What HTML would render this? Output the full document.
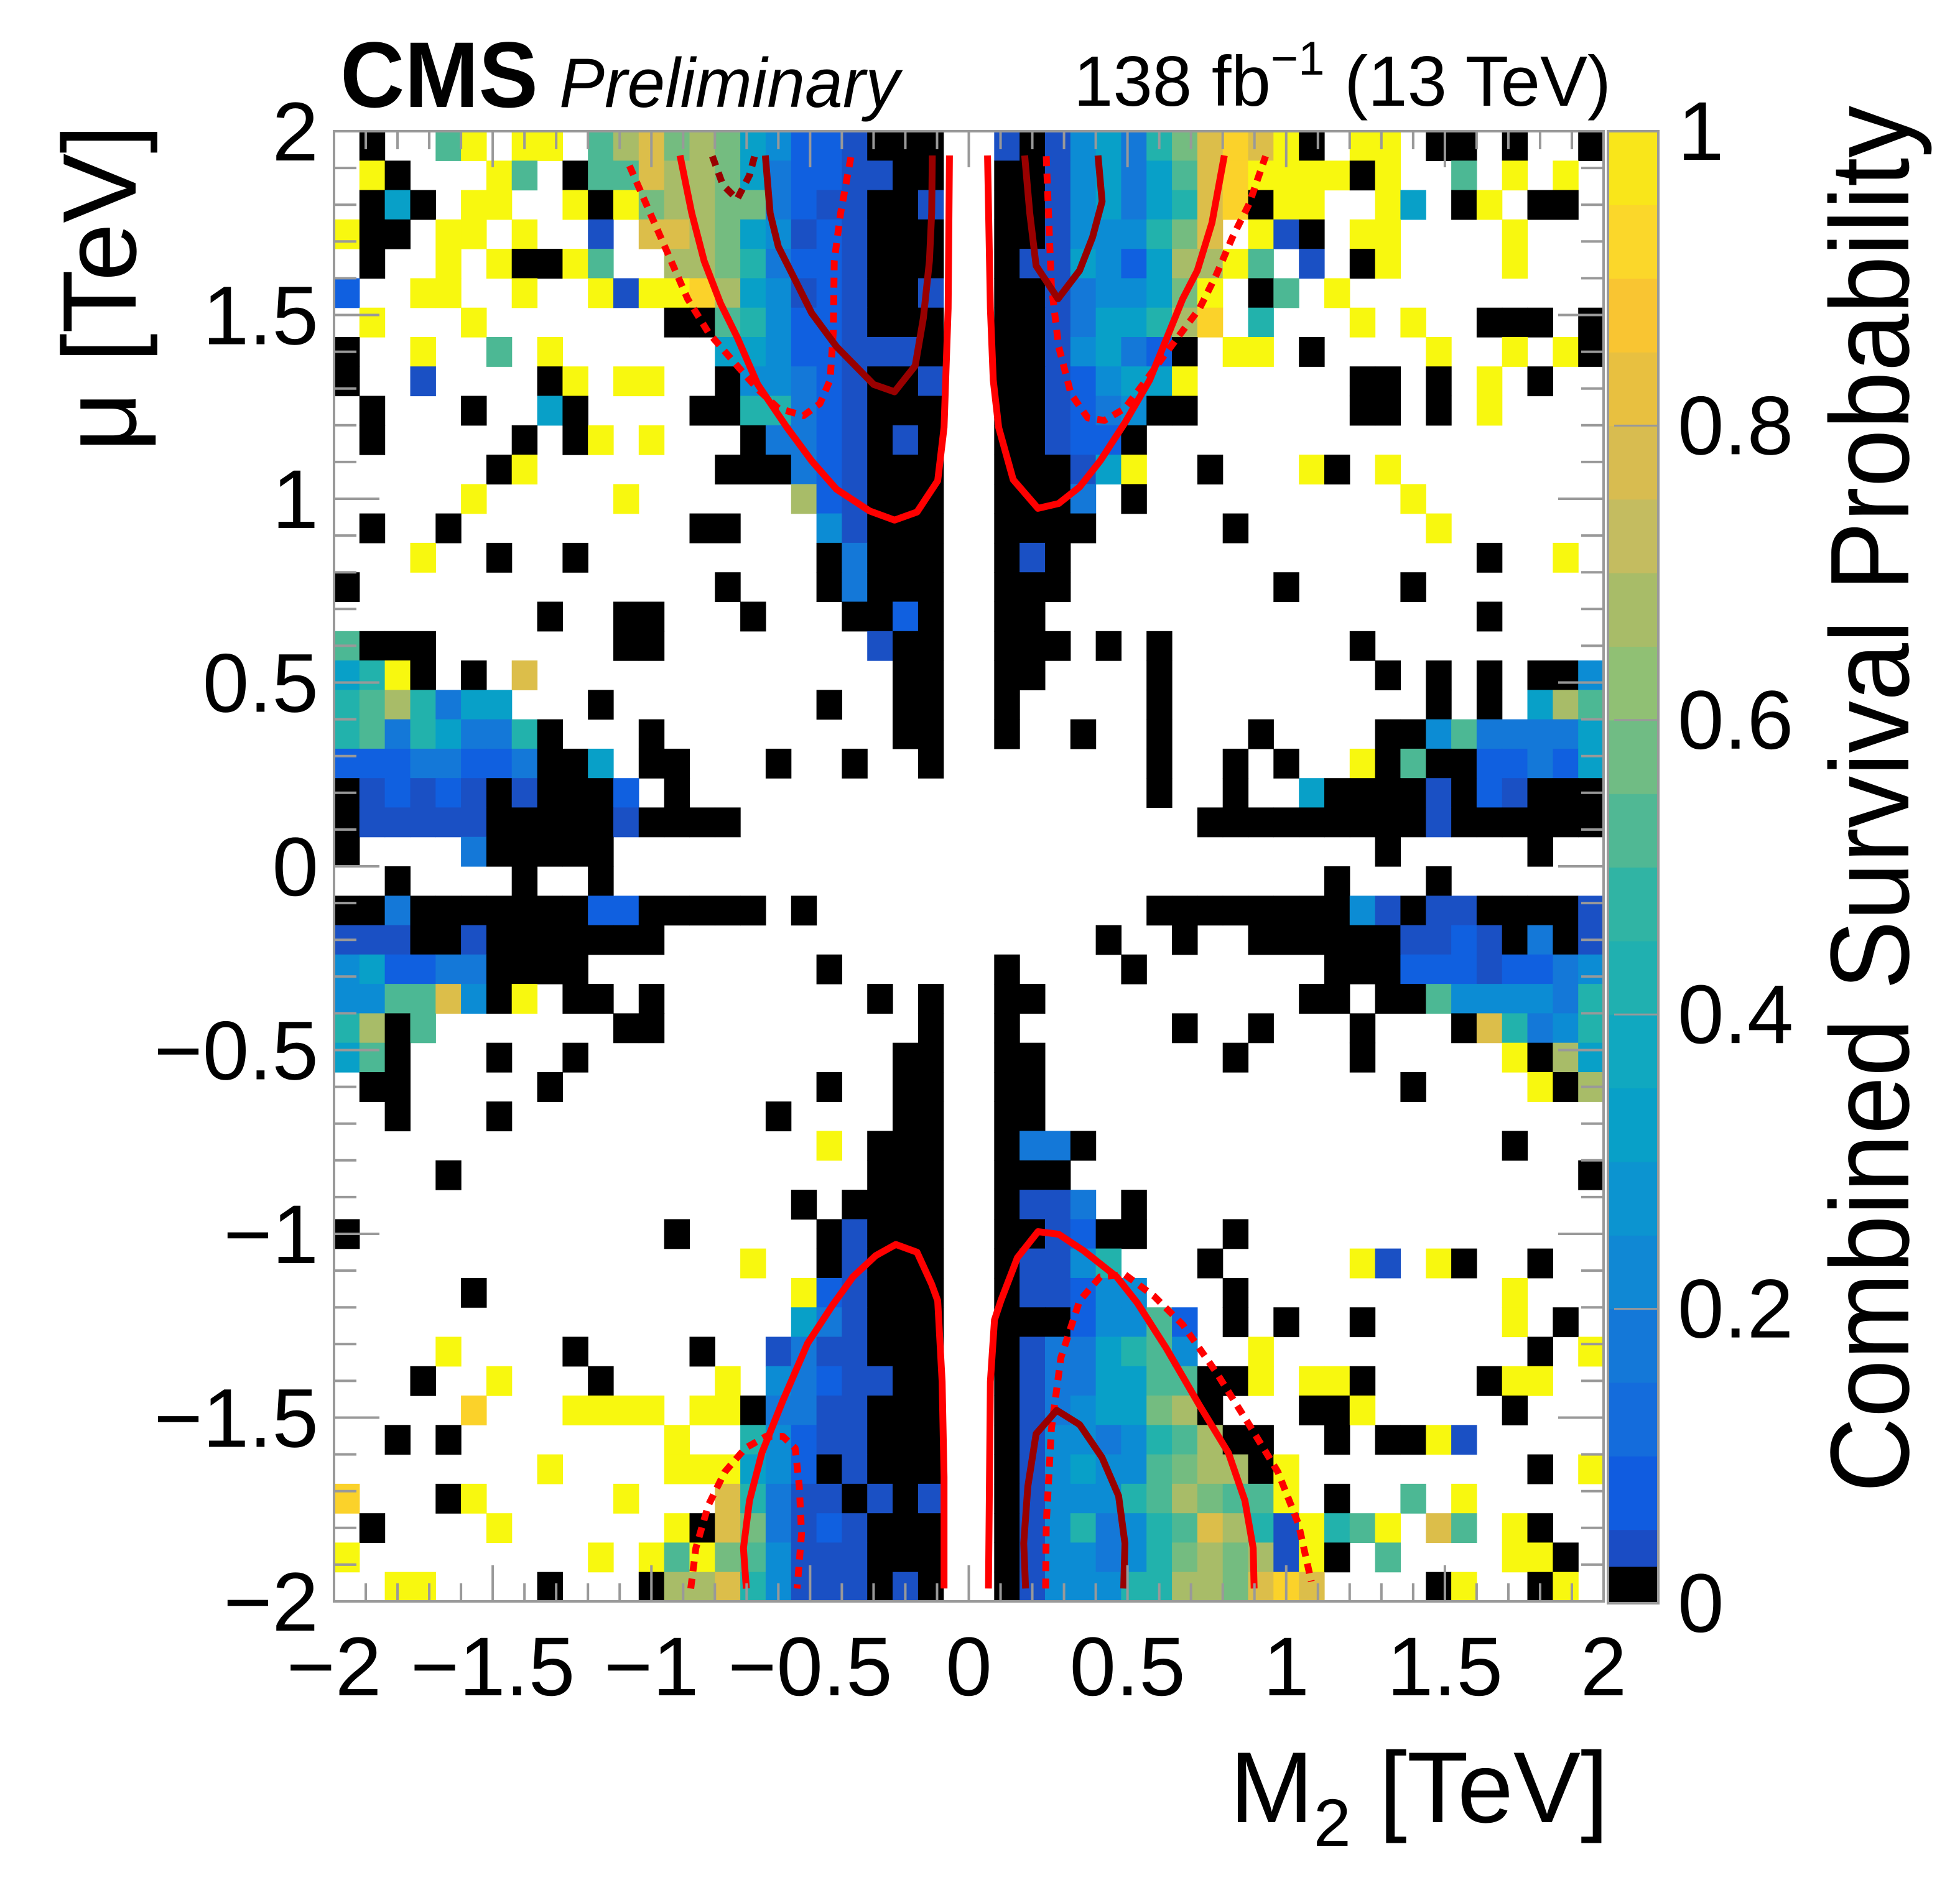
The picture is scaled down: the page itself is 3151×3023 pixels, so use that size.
<!DOCTYPE html>
<html><head><meta charset="utf-8"><title>CMS survival probability</title>
<style>html,body{margin:0;padding:0;background:#fff}svg{display:block}text{font-family:"Liberation Sans",sans-serif}</style>
</head><body>
<svg id="chart" xmlns="http://www.w3.org/2000/svg" width="3151" height="3023" viewBox="0 0 3151 3023">
<rect x="0" y="0" width="3151" height="3023" fill="#fff"/>
<g id="cells"></g>
<g id="contours"></g>
<g id="axes"></g>
<g id="cbar"></g>
<text x="547" y="172" font-size="150" font-weight="bold" textLength="318" lengthAdjust="spacingAndGlyphs">CMS</text>
<text x="899" y="172" font-size="112" font-style="italic" textLength="547" lengthAdjust="spacingAndGlyphs">Preliminary</text>
<text x="2590" y="170" font-size="114" text-anchor="end">138 fb<tspan font-size="76" dy="-50">−1</tspan><tspan dy="50"> (13 TeV)</tspan></text>
<text x="2586" y="2930" font-size="162" text-anchor="end">M<tspan font-size="108" dy="38">2</tspan><tspan dy="-38"> [TeV]</tspan></text>
<text transform="translate(218,200) rotate(-90)" font-size="168" text-anchor="end">μ [TeV]</text>
<text transform="translate(3068,1285) rotate(-90)" font-size="180" text-anchor="middle" textLength="2230" lengthAdjust="spacingAndGlyphs">Combined Survival Probability</text>
</svg>
<script>
const NS="http://www.w3.org/2000/svg";
// heatmap rows, top (mu=2) to bottom (mu=-2); 50 columns M2 from -2 to 2
const gridRows=[
" k  ty yy tlgmlmabeefkkk "+" fkfbadcmgogyk yy kk k  k",
" yk   yt kttgllmadeeffkk "+" kkfbadatgoyyyyky  t y y ",
" kak yy  ykymllmmdeffkkf "+" kkfbadacgokyy  ya ky kk ",
"ykk yy y  f gglmabfefkkk "+" kkfbbbcmg yfk yy    y   ",
" k  y ykkyt  llmcdeefkkk "+" kffabeallyt f ky    y   ",
"e  yy  y  yfyyolabfefkkf "+" kkfdbbamy kt y          ",
" y   y       kktcbeefkkk "+" kkfdaaclo c   y y  kkk k",
"k  y  t y      aabeefffk "+" kkfbadek yy k    y  y yk",
"k  f    ky yy  kbbdefkkf "+" kkfebaay      kk k y k  ",
" k   k  ak    kkccdefkkk "+" kkfedbkk      kk k y    ",
" k     k ky y   kddefkfk "+" kkfeek                  ",
"      ky       kkkdefkkk "+" kkkfay  k   yk y        ",
"     y     y      lefkkk "+" kkkd k          y       ",
" k  k         kk   bfkkk "+" kkkk     k       y      ",
"   y  k  k         kdkkk "+" kfk                k  y ",
"k              k   kdkkk "+" kkk        k    k       ",
"        k  kk   k   kkek "+" kk                 k    ",
"tkkk       kk        fkk "+" kkk k k       k         ",
"acyk k g              kk "+" kk    k        k k k kkb",
"ctlcdaa   k        k  kk "+" k     k          k k alt",
"ctdcaddck   k         kk "+" k  k  k   k    kkbtdddda",
"eeeddeedkka kk   k  k  k "+"       k  k k  yktkkeedea",
"kfefefkfkkke k           "+"       k  k  akkkkfkefkkk",
"kfffffkkkkkfkkkk         "+"         kkkkkkkkkfkkkkkk",
"k    dkkkkk              "+"                k     k  ",
"  k    k  k              "+"              k   k      ",
"kkdkkkkkkkeekkkkk k      "+"       kkkkkkkkbfkffkkkkf",
"fffkkfkkkkkkk            "+"     k  k  kkkkkkffefkdkf",
"baeeddkkkk         k     "+" k    k       kkkeeefeedb",
"bbttgbky kk k        k k "+" kk          kk kktbbbbdc",
"clkt       kk          k "+" k      k  k   k   kgcdbc",
"atk   k  k            kk "+" kk       k    k     ykla",
" kk     k          k  kk "+" kk              k    ykl",
"  k   k          k    kk "+" kk                      ",
"                   y kkk "+" kddk                k   ",
"    k                kkk "+" kkk                    k",
"                  k kkkk "+" kffd k                  ",
"k            k     kfkkk "+" kkfekk   k              ",
"                y  kfkkk "+" kffbc   k     yf yk  k  ",
"     k            yefkkk "+" kffebb   k          y   ",
"                  adfkkk "+" kkkebbte k k  k     y k ",
"    y    k    k  fdffkkk "+" kfddactb  y          k y",
"   k  y   k    y bdeffkk "+" kfddaattkky yyk    kyy  ",
"     o   yyyy yykddffkkk "+" kfdbaamlk   kky     k   ",
"  k k        y  cbeffkkk "+" kfbbdbctlkk  k kkyf     ",
"        y    yyyabekfkkk "+" kfbabbtmllky         k y",
"o   ky     y   gcdffkfkf "+" kfbbbctlmtty k  t y     ",
" k    y      ykgmdfefkkk "+" kfbcdbctglcfycty gt yk  ",
"y         y ytymtbfffkkk "+" kfbbdbcmlmlfyk t    yyk ",
"  yy    k   kllgcbfffkfk "+" kfbbbccllmgog    ky  ky "
];
const levelCodes=["k","f","e","d","b","a","c","t","m","l","g","o","y"];
const levelColors=["#000000","#1a50c4","#1060e0","#1478d8","#0c8cd4","#08a0c8","#22b2ac","#4cb894","#74bc80","#a8bc68","#dcbe4a","#fbd22a","#f8f80f"];
const cbarColors=["#1a4cc4","#105ce0","#146cdc","#1478d8","#1088d4","#0c94d0","#08a0c8","#10a8c0","#20b0b0","#30b4a4","#50b894","#70bc84","#90c074","#a8bc68","#c4bc60","#d8bc50","#e8c040","#f9c532","#fbd72a","#f9e61a"];
const xTicks=[-2,-1.5,-1,-0.5,0,0.5,1,1.5,2];
const xTickLabels=["−2","−1.5","−1","−0.5","0","0.5","1","1.5","2"];
const yTicks=[-2,-1.5,-1,-0.5,0,0.5,1,1.5,2];
const yTickLabels=["−2","−1.5","−1","−0.5","0","0.5","1","1.5","2"];
const zTicks=[0,0.2,0.4,0.6,0.8,1];
const zTickLabels=["0","0.2","0.4","0.6","0.8","1"];
// contours (M2, mu) in TeV
const tlSolidX=[-0.910,-0.873,-0.834,-0.782,-0.730,-0.665,-0.573,-0.495,-0.417,-0.313,-0.234,-0.163,-0.098,-0.078,-0.065,-0.061];
const tlSolidY=[1.934,1.777,1.647,1.531,1.440,1.311,1.194,1.103,1.026,0.967,0.942,0.964,1.049,1.194,1.518,1.934];
const tlDashX=[-1.069,-1.004,-0.938,-0.886,-0.821,-0.743,-0.665,-0.600,-0.521,-0.469,-0.437,-0.427,-0.424,-0.404,-0.371];
const tlDashY=[1.906,1.777,1.647,1.544,1.453,1.375,1.298,1.246,1.226,1.259,1.323,1.453,1.647,1.777,1.932];
const tlDarkX=[-0.641,-0.626,-0.600,-0.547,-0.495,-0.417,-0.300,-0.234,-0.169,-0.143,-0.124,-0.117,-0.115];
const tlDarkY=[1.934,1.777,1.686,1.595,1.505,1.414,1.311,1.291,1.362,1.492,1.647,1.777,1.934];
const tlDarkDashX=[-0.808,-0.775,-0.730,-0.691,-0.675];
const tlDarkDashY=[1.932,1.854,1.815,1.880,1.932];
const trSolidX=[0.059,0.068,0.077,0.094,0.140,0.218,0.283,0.349,0.414,0.492,0.570,0.674,0.720,0.766,0.805];
const trSolidY=[1.934,1.518,1.323,1.194,1.052,0.974,0.987,1.032,1.103,1.207,1.323,1.544,1.621,1.751,1.934];
const trDashX=[0.244,0.251,0.260,0.283,0.322,0.375,0.427,0.492,0.570,0.648,0.727,0.779,0.831,0.883,0.935];
const trDashY=[1.932,1.777,1.582,1.414,1.285,1.220,1.213,1.246,1.336,1.427,1.518,1.608,1.712,1.802,1.932];
const trDarkX=[0.176,0.192,0.212,0.281,0.349,0.390,0.420,0.407];
const trDarkY=[1.934,1.777,1.634,1.544,1.621,1.712,1.809,1.934];
const blSolidX=[-0.701,-0.710,-0.691,-0.652,-0.586,-0.508,-0.430,-0.365,-0.293,-0.230,-0.163,-0.117,-0.098,-0.084,-0.078,-0.078];
const blSolidY=[-1.965,-1.855,-1.726,-1.596,-1.454,-1.298,-1.195,-1.117,-1.059,-1.029,-1.050,-1.137,-1.182,-1.402,-1.661,-1.965];
const blDashX=[-0.876,-0.860,-0.821,-0.769,-0.704,-0.639,-0.586,-0.547,-0.534,-0.527,-0.541];
const blDashY=[-1.965,-1.855,-1.739,-1.648,-1.583,-1.551,-1.551,-1.583,-1.687,-1.816,-1.965];
const brSolidX=[0.062,0.068,0.081,0.101,0.153,0.218,0.283,0.362,0.466,0.531,0.622,0.727,0.818,0.870,0.896,0.899];
const brSolidY=[-1.965,-1.402,-1.234,-1.182,-1.065,-0.994,-1.001,-1.046,-1.117,-1.188,-1.311,-1.467,-1.596,-1.726,-1.855,-1.965];
const brDashX=[0.242,0.244,0.260,0.290,0.349,0.414,0.492,0.583,0.674,0.779,0.883,0.974,1.039,1.079];
const brDashY=[-1.965,-1.790,-1.532,-1.337,-1.182,-1.117,-1.111,-1.169,-1.247,-1.376,-1.519,-1.648,-1.790,-1.946];
const brDarkX=[0.179,0.173,0.186,0.212,0.277,0.349,0.420,0.472,0.492,0.488];
const brDarkY=[-1.965,-1.842,-1.687,-1.544,-1.480,-1.519,-1.609,-1.713,-1.842,-1.965];

const X0=537,X1=2578,Y0=211,Y1=2575;
const xMin=-2,xMax=2,yMin=-2,yMax=2;
function sx(v){return X0+(v-xMin)/(xMax-xMin)*(X1-X0);}
function sy(v){return Y1-(v-yMin)/(yMax-yMin)*(Y1-Y0);}
const CB0=2585,CB1=2666,CBT=211,CBB=2578;
function sz(v){return CBB-v*(CBB-CBT);}
function mk(tag,attrs,parent){const e=document.createElementNS(NS,tag);for(const k in attrs)e.setAttribute(k,attrs[k]);parent.appendChild(e);return e;}

const cells=document.getElementById('cells');
const nRows=gridRows.length,nCols=gridRows[0].length;
const dx=(xMax-xMin)/nCols,dy=(yMax-yMin)/nRows;
for(let r=0;r<nRows;r++){
  for(let c=0;c<nCols;c++){
    const ch=gridRows[r][c];
    const li=levelCodes.indexOf(ch);
    if(li<0)continue;
    const xa=sx(xMin+c*dx),xb=sx(xMin+(c+1)*dx);
    const ya=sy(yMax-r*dy),yb=sy(yMax-(r+1)*dy);
    const el=mk('rect',{x:xa.toFixed(1),y:ya.toFixed(1),width:(xb-xa+0.6).toFixed(1),height:(yb-ya+0.6).toFixed(1),fill:levelColors[li]},cells);
    
    
  }
}

const cont=document.getElementById('contours');
function line(xs,ys,color,dash,name){
  const pts=xs.map((v,i)=>sx(v).toFixed(1)+','+sy(ys[i]).toFixed(1)).join(' ');
  const a={points:pts,fill:'none',stroke:color,'stroke-width':11,'stroke-linejoin':'round'};
  if(dash)a['stroke-dasharray']='16 12';
  const el=mk('polyline',a,cont);
  
  
}
line(tlSolidX,tlSolidY,'#ff0000',false,'contour-expected-top-left');
line(tlDashX,tlDashY,'#ff0000',true,'contour-expected-band-top-left');
line(tlDarkX,tlDarkY,'#990000',false,'contour-observed-top-left');
line(tlDarkDashX,tlDarkDashY,'#990000',true,'contour-observed-band-top-left');
line(trSolidX,trSolidY,'#ff0000',false,'contour-expected-top-right');
line(trDashX,trDashY,'#ff0000',true,'contour-expected-band-top-right');
line(trDarkX,trDarkY,'#990000',false,'contour-observed-top-right');
line(blSolidX,blSolidY,'#ff0000',false,'contour-expected-bottom-left');
line(blDashX,blDashY,'#ff0000',true,'contour-expected-band-bottom-left');
line(brSolidX,brSolidY,'#ff0000',false,'contour-expected-bottom-right');
line(brDashX,brDashY,'#ff0000',true,'contour-expected-band-bottom-right');
line(brDarkX,brDarkY,'#990000',false,'contour-observed-bottom-right');

const ax=document.getElementById('axes');
const G='#999999';
const frame=mk('rect',{x:X0,y:Y0,width:X1-X0,height:Y1-Y0,fill:'none',stroke:G,'stroke-width':4},ax);


for(let i=0;i<=40;i++){
  const v=-2+i*0.1, major=(i%5===0);
  const x=sx(v), L=major?58:29;
  const t1=mk('line',{x1:x,x2:x,y1:Y1,y2:Y1-L,stroke:G,'stroke-width':4},ax);
  
  
  const t2=mk('line',{x1:x,x2:x,y1:Y0,y2:Y0+L,stroke:G,'stroke-width':4},ax);
  
  
  const y=sy(v), Ly=major?73:36;
  const t3=mk('line',{x1:X0,x2:X0+Ly,y1:y,y2:y,stroke:G,'stroke-width':4},ax);
  
  
  const t4=mk('line',{x1:X1,x2:X1-Ly,y1:y,y2:y,stroke:G,'stroke-width':4},ax);
  
  
}
xTicks.forEach((v,i)=>{
  const t=mk('text',{x:sx(v),y:2726,'font-size':134,'text-anchor':'middle'},ax);
  t.textContent=xTickLabels[i];
  
  
});
yTicks.forEach((v,i)=>{
  const t=mk('text',{x:512,y:sy(v)+47,'font-size':134,'text-anchor':'end'},ax);
  t.textContent=yTickLabels[i];
  
  
});

const cb=document.getElementById('cbar');
const bk=mk('rect',{x:CB0,y:sz(0.025),width:CB1-CB0,height:sz(0)-sz(0.025),fill:'#000'},cb);


cbarColors.forEach((c,i)=>{
  const lo=i===0?0.025:i*0.05, hi=(i+1)*0.05;
  const r=mk('rect',{x:CB0,y:sz(hi),width:CB1-CB0,height:sz(lo)-sz(hi)+0.6,fill:c},cb);
  
  
});
const cbf=mk('rect',{x:CB0,y:CBT,width:CB1-CB0,height:CBB-CBT,fill:'none',stroke:G,'stroke-width':4},cb);


zTicks.forEach((v,i)=>{
  if(v>0&&v<1){
    const tk=mk('line',{x1:CB0+10,x2:CB1,y1:sz(v),y2:sz(v),stroke:G,'stroke-width':3},cb);
    
    
  }
  const t=mk('text',{x:2697,y:sz(v)+46,'font-size':134},cb);
  t.textContent=zTickLabels[i];
  
  
});
</script>
</body></html>
